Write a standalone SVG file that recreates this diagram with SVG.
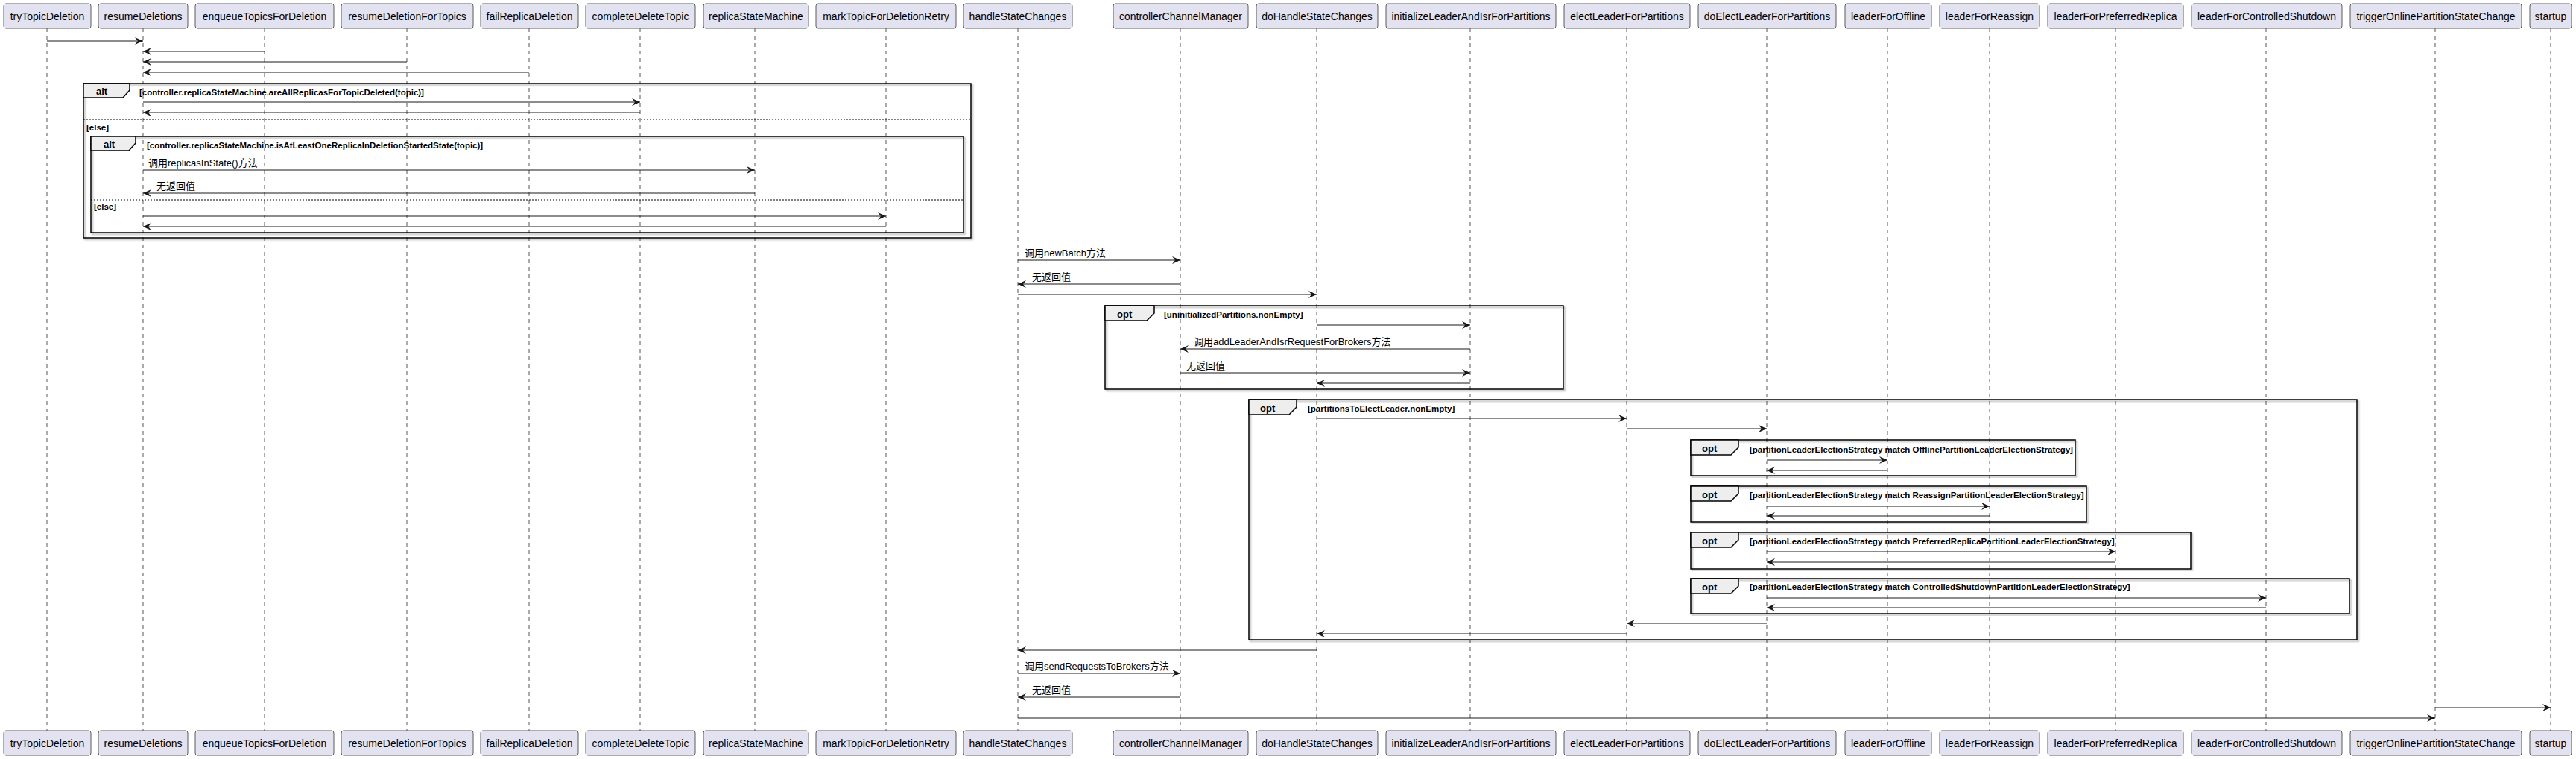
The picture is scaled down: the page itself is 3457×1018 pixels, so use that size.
<svg xmlns="http://www.w3.org/2000/svg" width="3457" height="1018" viewBox="0 0 3457 1018">
<defs>
<style>
text{font-family:"Liberation Sans",Arial,"Noto Sans CJK SC",sans-serif;fill:#000}
.pbox{fill:#E2E2F0;stroke:#5a5a5a;stroke-width:1}
.pname{font-size:14px;text-anchor:middle}
.life{stroke:#555;stroke-width:1;stroke-dasharray:5,5;fill:none}
.msg{stroke:#181818;stroke-width:1;fill:none;marker-end:url(#ah)}
.lbl{font-size:13px}
.frame{fill:none;stroke:#000;stroke-width:1.5;filter:url(#sh)}
.tab{fill:#EEEEEE;stroke:#000;stroke-width:1.5}
.ftitle{font-size:13px;font-weight:bold}
.guard{font-size:11.5px;font-weight:bold}
.sep{stroke:#000;stroke-width:1;stroke-dasharray:2,2}
</style>
<marker id="ah" markerUnits="userSpaceOnUse" viewBox="0 0 11 10" refX="11" refY="5" markerWidth="11" markerHeight="10" orient="auto">
<path d="M0,0 L11,5 L0,10 L4,5 Z" fill="#181818"/>
</marker>
<filter id="sh" x="-5%" y="-5%" width="110%" height="110%">
<feDropShadow dx="2" dy="2" stdDeviation="1" flood-color="#000" flood-opacity="0.35"/>
</filter>
</defs>
<rect width="3457" height="1018" fill="#fff"/>

<g id="lifelines">
<line class="life" x1="63" y1="38" x2="63" y2="980"/>
<line class="life" x1="192" y1="38" x2="192" y2="980"/>
<line class="life" x1="355" y1="38" x2="355" y2="980"/>
<line class="life" x1="546" y1="38" x2="546" y2="980"/>
<line class="life" x1="710" y1="38" x2="710" y2="980"/>
<line class="life" x1="859" y1="38" x2="859" y2="980"/>
<line class="life" x1="1013" y1="38" x2="1013" y2="980"/>
<line class="life" x1="1189" y1="38" x2="1189" y2="980"/>
<line class="life" x1="1366" y1="38" x2="1366" y2="980"/>
<line class="life" x1="1584" y1="38" x2="1584" y2="980"/>
<line class="life" x1="1767" y1="38" x2="1767" y2="980"/>
<line class="life" x1="1973" y1="38" x2="1973" y2="980"/>
<line class="life" x1="2183" y1="38" x2="2183" y2="980"/>
<line class="life" x1="2371" y1="38" x2="2371" y2="980"/>
<line class="life" x1="2533" y1="38" x2="2533" y2="980"/>
<line class="life" x1="2670" y1="38" x2="2670" y2="980"/>
<line class="life" x1="2839" y1="38" x2="2839" y2="980"/>
<line class="life" x1="3041" y1="38" x2="3041" y2="980"/>
<line class="life" x1="3268" y1="38" x2="3268" y2="980"/>
<line class="life" x1="3423" y1="38" x2="3423" y2="980"/>
</g>

<g id="p-tryTopicDeletion"><rect class="pbox" x="5" y="5" width="117" height="33" rx="3"/><text class="pname" x="63.5" y="27">tryTopicDeletion</text><rect class="pbox" x="5" y="980" width="117" height="33" rx="3"/><text class="pname" x="63.5" y="1002">tryTopicDeletion</text></g>
<g id="p-resumeDeletions"><rect class="pbox" x="132" y="5" width="120" height="33" rx="3"/><text class="pname" x="192" y="27">resumeDeletions</text><rect class="pbox" x="132" y="980" width="120" height="33" rx="3"/><text class="pname" x="192" y="1002">resumeDeletions</text></g>
<g id="p-enqueueTopicsForDeletion"><rect class="pbox" x="262" y="5" width="186" height="33" rx="3"/><text class="pname" x="355" y="27">enqueueTopicsForDeletion</text><rect class="pbox" x="262" y="980" width="186" height="33" rx="3"/><text class="pname" x="355" y="1002">enqueueTopicsForDeletion</text></g>
<g id="p-resumeDeletionForTopics"><rect class="pbox" x="458" y="5" width="177" height="33" rx="3"/><text class="pname" x="546.5" y="27">resumeDeletionForTopics</text><rect class="pbox" x="458" y="980" width="177" height="33" rx="3"/><text class="pname" x="546.5" y="1002">resumeDeletionForTopics</text></g>
<g id="p-failReplicaDeletion"><rect class="pbox" x="645" y="5" width="131" height="33" rx="3"/><text class="pname" x="710.5" y="27">failReplicaDeletion</text><rect class="pbox" x="645" y="980" width="131" height="33" rx="3"/><text class="pname" x="710.5" y="1002">failReplicaDeletion</text></g>
<g id="p-completeDeleteTopic"><rect class="pbox" x="786" y="5" width="147" height="33" rx="3"/><text class="pname" x="859.5" y="27">completeDeleteTopic</text><rect class="pbox" x="786" y="980" width="147" height="33" rx="3"/><text class="pname" x="859.5" y="1002">completeDeleteTopic</text></g>
<g id="p-replicaStateMachine"><rect class="pbox" x="944" y="5" width="141" height="33" rx="3"/><text class="pname" x="1014.5" y="27">replicaStateMachine</text><rect class="pbox" x="944" y="980" width="141" height="33" rx="3"/><text class="pname" x="1014.5" y="1002">replicaStateMachine</text></g>
<g id="p-markTopicForDeletionRetry"><rect class="pbox" x="1095" y="5" width="188" height="33" rx="3"/><text class="pname" x="1189" y="27">markTopicForDeletionRetry</text><rect class="pbox" x="1095" y="980" width="188" height="33" rx="3"/><text class="pname" x="1189" y="1002">markTopicForDeletionRetry</text></g>
<g id="p-handleStateChanges"><rect class="pbox" x="1293" y="5" width="146" height="33" rx="3"/><text class="pname" x="1366" y="27">handleStateChanges</text><rect class="pbox" x="1293" y="980" width="146" height="33" rx="3"/><text class="pname" x="1366" y="1002">handleStateChanges</text></g>
<g id="p-controllerChannelManager"><rect class="pbox" x="1494" y="5" width="181" height="33" rx="3"/><text class="pname" x="1584.5" y="27">controllerChannelManager</text><rect class="pbox" x="1494" y="980" width="181" height="33" rx="3"/><text class="pname" x="1584.5" y="1002">controllerChannelManager</text></g>
<g id="p-doHandleStateChanges"><rect class="pbox" x="1686" y="5" width="163" height="33" rx="3"/><text class="pname" x="1767.5" y="27">doHandleStateChanges</text><rect class="pbox" x="1686" y="980" width="163" height="33" rx="3"/><text class="pname" x="1767.5" y="1002">doHandleStateChanges</text></g>
<g id="p-initializeLeaderAndIsrForPartitions"><rect class="pbox" x="1860" y="5" width="228" height="33" rx="3"/><text class="pname" x="1974" y="27">initializeLeaderAndIsrForPartitions</text><rect class="pbox" x="1860" y="980" width="228" height="33" rx="3"/><text class="pname" x="1974" y="1002">initializeLeaderAndIsrForPartitions</text></g>
<g id="p-electLeaderForPartitions"><rect class="pbox" x="2099" y="5" width="169" height="33" rx="3"/><text class="pname" x="2183.5" y="27">electLeaderForPartitions</text><rect class="pbox" x="2099" y="980" width="169" height="33" rx="3"/><text class="pname" x="2183.5" y="1002">electLeaderForPartitions</text></g>
<g id="p-doElectLeaderForPartitions"><rect class="pbox" x="2279" y="5" width="185" height="33" rx="3"/><text class="pname" x="2371.5" y="27">doElectLeaderForPartitions</text><rect class="pbox" x="2279" y="980" width="185" height="33" rx="3"/><text class="pname" x="2371.5" y="1002">doElectLeaderForPartitions</text></g>
<g id="p-leaderForOffline"><rect class="pbox" x="2476" y="5" width="116" height="33" rx="3"/><text class="pname" x="2534" y="27">leaderForOffline</text><rect class="pbox" x="2476" y="980" width="116" height="33" rx="3"/><text class="pname" x="2534" y="1002">leaderForOffline</text></g>
<g id="p-leaderForReassign"><rect class="pbox" x="2603" y="5" width="134" height="33" rx="3"/><text class="pname" x="2670" y="27">leaderForReassign</text><rect class="pbox" x="2603" y="980" width="134" height="33" rx="3"/><text class="pname" x="2670" y="1002">leaderForReassign</text></g>
<g id="p-leaderForPreferredReplica"><rect class="pbox" x="2748" y="5" width="182" height="33" rx="3"/><text class="pname" x="2839" y="27">leaderForPreferredReplica</text><rect class="pbox" x="2748" y="980" width="182" height="33" rx="3"/><text class="pname" x="2839" y="1002">leaderForPreferredReplica</text></g>
<g id="p-leaderForControlledShutdown"><rect class="pbox" x="2941" y="5" width="202" height="33" rx="3"/><text class="pname" x="3042" y="27">leaderForControlledShutdown</text><rect class="pbox" x="2941" y="980" width="202" height="33" rx="3"/><text class="pname" x="3042" y="1002">leaderForControlledShutdown</text></g>
<g id="p-triggerOnlinePartitionStateChange"><rect class="pbox" x="3154" y="5" width="230" height="33" rx="3"/><text class="pname" x="3269" y="27">triggerOnlinePartitionStateChange</text><rect class="pbox" x="3154" y="980" width="230" height="33" rx="3"/><text class="pname" x="3269" y="1002">triggerOnlinePartitionStateChange</text></g>
<g id="p-startup"><rect class="pbox" x="3395" y="5" width="56" height="33" rx="3"/><text class="pname" x="3423" y="27">startup</text><rect class="pbox" x="3395" y="980" width="56" height="33" rx="3"/><text class="pname" x="3423" y="1002">startup</text></g>

<g id="frames">
<g id="alt-outer">
<rect class="frame" x="112" y="112" width="1191" height="207"/>
<polygon class="tab" points="112,112 174,112 174,121 165,131 112,131"/>
<text class="ftitle" x="129" y="127">alt</text>
<text class="guard" x="187" y="128">[controller.replicaStateMachine.areAllReplicasForTopicDeleted(topic)]</text>
<line class="sep" x1="112" y1="160" x2="1303" y2="160"/>
<text class="guard" x="116" y="175">[else]</text>
</g>
<g id="alt-inner">
<rect class="frame" x="122" y="183" width="1171" height="129"/>
<polygon class="tab" points="122,183 182,183 182,192 173,202 122,202"/>
<text class="ftitle" x="139" y="198">alt</text>
<text class="guard" x="197" y="199">[controller.replicaStateMachine.isAtLeastOneReplicaInDeletionStartedState(topic)]</text>
<line class="sep" x1="122" y1="268" x2="1293" y2="268"/>
<text class="guard" x="126" y="281">[else]</text>
</g>
<g id="opt-uninit">
<rect class="frame" x="1483" y="410" width="615" height="112"/>
<polygon class="tab" points="1483,410 1549,410 1549,420 1539,430 1483,430"/>
<text class="ftitle" x="1499" y="426">opt</text>
<text class="guard" x="1562" y="426">[uninitializedPartitions.nonEmpty]</text>
</g>
<g id="opt-elect">
<rect class="frame" x="1676" y="536" width="1487" height="322"/>
<polygon class="tab" points="1676,536 1740,536 1740,546 1730,556 1676,556"/>
<text class="ftitle" x="1691" y="552">opt</text>
<text class="guard" x="1755" y="552">[partitionsToElectLeader.nonEmpty]</text>
</g>
<g id="opt-offline">
<rect class="frame" x="2269" y="590" width="516" height="48"/>
<polygon class="tab" points="2269,590 2333,590 2333,600 2323,610 2269,610"/>
<text class="ftitle" x="2284" y="606">opt</text>
<text class="guard" x="2348" y="607">[partitionLeaderElectionStrategy match OfflinePartitionLeaderElectionStrategy]</text>
</g>
<g id="opt-reassign">
<rect class="frame" x="2269" y="652" width="531" height="48"/>
<polygon class="tab" points="2269,652 2333,652 2333,662 2323,672 2269,672"/>
<text class="ftitle" x="2284" y="668">opt</text>
<text class="guard" x="2348" y="668">[partitionLeaderElectionStrategy match ReassignPartitionLeaderElectionStrategy]</text>
</g>
<g id="opt-preferred">
<rect class="frame" x="2269" y="714" width="671" height="49"/>
<polygon class="tab" points="2269,714 2333,714 2333,724 2323,734 2269,734"/>
<text class="ftitle" x="2284" y="730">opt</text>
<text class="guard" x="2348" y="730">[partitionLeaderElectionStrategy match PreferredReplicaPartitionLeaderElectionStrategy]</text>
</g>
<g id="opt-controlled">
<rect class="frame" x="2269" y="776" width="884" height="47"/>
<polygon class="tab" points="2269,776 2333,776 2333,786 2323,796 2269,796"/>
<text class="ftitle" x="2284" y="792">opt</text>
<text class="guard" x="2348" y="791">[partitionLeaderElectionStrategy match ControlledShutdownPartitionLeaderElectionStrategy]</text>
</g>
</g>

<g id="connectors">
<line class="msg" x1="63" y1="55" x2="192" y2="55"/>
<line class="msg" x1="355" y1="69" x2="192" y2="69"/>
<line class="msg" x1="546" y1="83" x2="192" y2="83"/>
<line class="msg" x1="710" y1="97" x2="192" y2="97"/>
<line class="msg" x1="192" y1="137" x2="859" y2="137"/>
<line class="msg" x1="859" y1="151" x2="192" y2="151"/>
<line class="msg" x1="192" y1="228" x2="1013" y2="228"/>
<text class="lbl" x="199" y="223">调用replicasInState()方法</text>
<line class="msg" x1="1013" y1="259" x2="192" y2="259"/>
<text class="lbl" x="210" y="254">无返回值</text>
<line class="msg" x1="192" y1="290" x2="1189" y2="290"/>
<line class="msg" x1="1189" y1="304" x2="192" y2="304"/>
<line class="msg" x1="1366" y1="349" x2="1584" y2="349"/>
<text class="lbl" x="1375" y="344">调用newBatch方法</text>
<line class="msg" x1="1584" y1="381" x2="1366" y2="381"/>
<text class="lbl" x="1385" y="376">无返回值</text>
<line class="msg" x1="1366" y1="395" x2="1767" y2="395"/>
<line class="msg" x1="1767" y1="436" x2="1973" y2="436"/>
<line class="msg" x1="1973" y1="468" x2="1584" y2="468"/>
<text class="lbl" x="1602" y="463">调用addLeaderAndIsrRequestForBrokers方法</text>
<line class="msg" x1="1584" y1="500" x2="1973" y2="500"/>
<text class="lbl" x="1592" y="495">无返回值</text>
<line class="msg" x1="1973" y1="514" x2="1767" y2="514"/>
<line class="msg" x1="1767" y1="561" x2="2183" y2="561"/>
<line class="msg" x1="2183" y1="575" x2="2371" y2="575"/>
<line class="msg" x1="2371" y1="617" x2="2533" y2="617"/>
<line class="msg" x1="2533" y1="631" x2="2371" y2="631"/>
<line class="msg" x1="2371" y1="679" x2="2670" y2="679"/>
<line class="msg" x1="2670" y1="692" x2="2371" y2="692"/>
<line class="msg" x1="2371" y1="740" x2="2839" y2="740"/>
<line class="msg" x1="2839" y1="754" x2="2371" y2="754"/>
<line class="msg" x1="2371" y1="802" x2="3041" y2="802"/>
<line class="msg" x1="3041" y1="815" x2="2371" y2="815"/>
<line class="msg" x1="2371" y1="836" x2="2183" y2="836"/>
<line class="msg" x1="2183" y1="850" x2="1767" y2="850"/>
<line class="msg" x1="1767" y1="872" x2="1366" y2="872"/>
<line class="msg" x1="1366" y1="903" x2="1584" y2="903"/>
<text class="lbl" x="1375" y="898">调用sendRequestsToBrokers方法</text>
<line class="msg" x1="1584" y1="935" x2="1366" y2="935"/>
<text class="lbl" x="1385" y="930">无返回值</text>
<line class="msg" x1="3268" y1="949" x2="3423" y2="949"/>
<line class="msg" x1="1366" y1="963" x2="3268" y2="963"/>
</g>
</svg>
